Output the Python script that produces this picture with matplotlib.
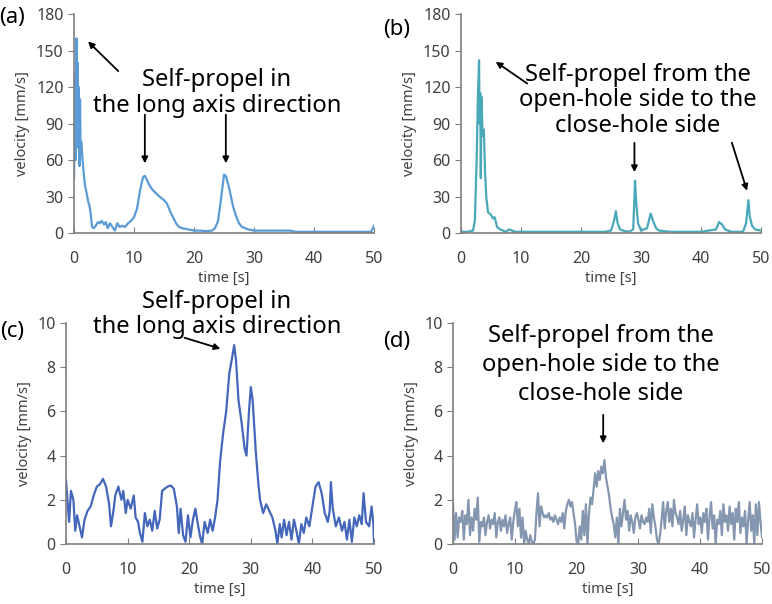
import numpy as np
import matplotlib
matplotlib.use("Agg")
import matplotlib.pyplot as plt

plt.rcParams['font.family'] = ['Noto Sans', 'DejaVu Sans']

# (a) self-propel in the long axis direction, large scale
t_a = [0, 0.1, 0.2, 0.3, 0.4, 0.5, 0.6, 0.7, 0.8, 0.9, 1.0, 1.1, 1.2, 1.4, 1.6, 1.8,
       2.0, 2.2, 2.4, 2.6, 2.8, 3.0, 3.3, 3.6, 4.0, 4.3, 4.6, 5.0, 5.3, 5.6, 6.0, 6.4,
       6.8, 7.2, 7.6, 8.0, 8.5, 9.0, 9.5, 10.0, 10.5, 11.0, 11.5, 11.8, 12.0, 12.5, 13.0,
       14.0, 15.0, 15.5, 16.0, 16.5, 17.0, 17.5, 18.0, 19.0, 20.0, 21.0, 22.0, 23.0, 23.5,
       24.0, 24.5, 25.0, 25.3, 25.8, 26.5, 27.0, 27.5, 28.0, 29.0, 30.0, 32.0, 34.0, 36.0,
       37.0, 38.0, 40.0, 42.0, 44.0, 46.0, 48.0, 49.5, 50.0]
v_a = [45, 100, 130, 60, 160, 90, 140, 70, 120, 55, 110, 65, 75, 62, 50, 40,
       35, 30, 25, 22, 15, 5, 4, 6, 9, 8, 10, 7, 9, 4, 8, 5,
       2, 8, 5, 6, 5, 8, 10, 13, 20, 35, 46, 47, 45, 40, 36,
       31, 27, 24, 18, 13, 8, 5, 4, 3, 2, 2, 1.5, 2, 4,
       10, 28, 48, 47, 38, 22, 14, 8, 5, 3, 2, 2, 2, 2,
       1, 1, 1, 1, 1, 1, 1, 1, 6]

# (b) self-propel from open-hole side to close-hole side, large scale
t_b = [0, 1, 2, 2.3, 2.6, 2.8, 3.0, 3.1, 3.2, 3.3, 3.4, 3.6, 3.8, 4.0, 4.2, 4.5, 5.0,
       5.3, 5.6, 6.0, 6.5, 7.0, 7.5, 8.0, 9.0, 10, 15, 20, 24, 25, 25.5, 25.8, 26.1, 26.5,
       27, 28, 28.7, 29.0, 29.2, 29.5, 30, 31, 31.6, 32, 32.5, 33, 35, 40, 42.5, 43,
       43.5, 44, 45, 47, 47.5, 47.9, 48.1, 48.5, 49, 50]
v_b = [1, 1, 2, 10, 60, 110, 142, 90, 115, 45, 112, 80, 85, 50, 30, 17, 15,
       12, 13, 5, 3, 2, 1, 3, 1, 1, 1, 1, 1, 2, 10, 18, 8, 3,
       2, 1, 3, 43, 25, 8, 2, 4, 16, 10, 4, 2, 1, 1, 3, 9,
       7, 3, 1, 1, 8, 27, 14, 6, 3, 2]

# (c) self-propel in the long axis direction, small scale
t_c = [0, 0.5, 0.8, 1.2, 1.5, 1.8, 2.2, 2.6, 3.0, 3.5, 4.0, 4.5, 5.0, 5.5, 6.0, 6.5,
       7.0, 7.3, 7.7, 8.0, 8.5, 9.0, 9.3, 9.7, 10.0, 10.5, 11.0, 11.3, 11.7, 12.0, 12.4,
       12.8, 13.2, 13.6, 14.0, 14.4, 14.8, 15.2, 15.6, 16.0, 16.5, 17.0, 17.5, 18.0, 18.3,
       18.6, 19.0, 19.4, 19.8, 20.2, 20.6, 21.0, 21.4, 21.8, 22.1, 22.5, 23.0, 23.4, 23.8,
       24.2, 24.6, 25.0, 25.5, 26.0, 26.5, 27.0, 27.3, 27.6, 28.0, 28.5, 29.0, 29.3, 29.7,
       30.0, 30.3, 30.8, 31.2, 31.5, 32.0, 32.5, 33.0, 33.5, 34.0, 34.3, 34.7, 35.0, 35.4,
       35.8, 36.2, 36.6, 37.0, 37.4, 37.8, 38.2, 38.6, 39.0, 39.5, 40.0, 40.5, 41.0, 41.5,
       42.0, 42.5, 42.8, 43.0, 43.3, 43.8, 44.3, 44.8, 45.2, 45.6, 46.0, 46.4, 46.8, 47.2,
       47.6, 48.0, 48.3, 48.7, 49.2, 49.6, 49.9, 50.0]
v_c = [2.9, 1.0, 2.4, 2.0, 0.6, 1.3, 0.8, 0.3, 1.1, 1.5, 1.7, 2.2, 2.6, 2.7, 2.95, 2.6,
       1.8, 0.8, 1.5, 2.2, 2.6, 2.0, 2.4, 1.4, 2.0, 1.6, 2.2, 1.2, 1.0, 0.5, 0.1,
       1.4, 0.8, 1.1, 0.6, 1.5, 0.7, 1.1, 2.4, 2.5, 2.6, 2.65, 2.5, 1.7, 0.5,
       1.6, 0.4, 0.1, 1.3, 0.3, 1.1, 1.6, 0.9, 0.3, 0.0, 1.0, 0.5, 1.1, 0.6,
       1.2, 2.0, 3.7, 5.0, 6.0, 7.7, 8.5, 9.0, 8.3, 6.5, 5.5, 4.3, 4.0, 6.0,
       7.1, 6.5, 4.2, 2.8, 2.0, 1.4, 1.8, 1.5, 1.2, 0.6, 0.0, 0.9, 0.3, 1.1,
       0.4, 1.0, 0.2, 1.1, 0.6, 0.0, 0.9, 0.5, 1.2, 0.8, 1.7, 2.6, 2.8, 2.3,
       1.4, 1.0, 1.5, 2.8, 1.6, 0.8, 1.2, 0.6, 1.0, 0.2, 1.1, 0.1, 1.2, 0.8,
       1.3, 0.9, 2.3, 1.0, 0.8, 1.7, 0.9, 0.0]

# (d) self-propel from open-hole side to close-hole side, small scale (0.25 s steps)
t_d = np.arange(0, 50.01, 0.25)
v_d = [1.8, 0.2, 1.4, 0.3, 1.2, 1.0, 1.5, 0.2, 1.3, 0.9, 2.0, 0.4, 1.2, 0.6, 1.6, 1.1, 2.1, 0.1, 1.0, 0.8,
       1.2, 0.4, 1.0, 1.3, 0.7, 1.1, 0.9, 1.4, 0.3, 1.0, 1.2, 0.6, 1.1, 0.8, 1.3, 0.5, 0.9, 1.2, 0.2, 1.0,
       1.5, 1.9, 0.8, 1.6, 0.3, 1.2, 0.0, 0.6, 0.2, 0.0, 0.4, 0.1, 0.0, 0.2, 1.4, 2.3, 0.8, 1.7, 1.4, 1.2,
       1.3, 1.2, 1.4, 1.1, 1.2, 1.0, 1.3, 1.1, 0.9, 1.2, 1.0, 1.4, 0.7, 1.5, 1.8, 2.0, 1.7, 1.9, 1.4, 0.9,
       0.1, 0.0, 0.8, 0.2, 1.5, 0.4, 1.8, 0.0, 1.4, 2.1, 1.8, 2.5, 3.2, 2.6, 3.3, 2.9, 3.5, 3.2, 3.8, 3.0,
       2.6, 2.2, 1.6, 1.2, 0.9, 0.3, 1.2, 0.0, 1.6, 0.8, 1.4, 2.0, 1.1, 1.5, 0.6, 1.3, 1.0, 0.5, 1.2, 1.4,
       1.1, 0.7, 1.3, 1.0, 0.9, 1.2, 1.0, 1.6, 0.5, 1.8, 1.2, 0.8, 0.2, 0.0, 0.4, 1.1, 1.9, 0.7, 1.5, 1.9,
       1.0, 1.6, 0.8, 2.0, 1.4, 1.2, 0.9, 1.5, 0.6, 1.1, 1.7, 0.4, 1.3, 1.0, 0.8, 1.4, 0.3, 1.1, 1.8, 0.9,
       1.2, 0.5, 1.4, 1.0, 1.6, 0.2, 1.2, 1.9, 0.7, 1.3, 0.0, 1.1, 0.9, 1.5, 0.4, 1.8, 1.0, 1.3, 0.6, 1.7,
       0.9, 1.4, 0.2, 1.6, 1.0, 1.9, 0.5, 1.2, 0.8, 1.5, 0.0, 1.1, 1.9, 0.6, 1.3, 0.0, 1.8, 0.4, 1.9, 1.0, 0.3]

txt_long = "Self-propel in\nthe long axis direction"
txt_hole = "Self-propel from the\nopen-hole side to the\nclose-hole side"

fig = plt.figure(figsize=(7.72, 6.04), dpi=100)

axes_pos = [[0.0959, 0.6142, 0.3886, 0.3626],
            [0.5972, 0.6142, 0.3886, 0.3626],
            [0.0855, 0.0993, 0.3990, 0.3659],
            [0.5868, 0.0993, 0.4003, 0.3659]]
series = [(t_a, v_a, '#5B9BD5', 180, 30),
          (t_b, v_b, '#4AA9B8', 180, 30),
          (t_c, v_c, '#4466BB', 10, 2),
          (t_d, v_d, '#8496B0', 10, 2)]

axs = []
for pos, (t, v, col, ymax, ystep) in zip(axes_pos, series):
    ax = fig.add_axes(pos)
    ax.plot(t, v, color=col, lw=1.6)
    ax.set_xlim(0, 50)
    ax.set_ylim(0, ymax)
    ax.set_xticks(range(0, 51, 10))
    ax.set_yticks(np.arange(0, ymax + 1, ystep))
    for s in ['top', 'right']:
        ax.spines[s].set_visible(False)
    for s in ['left', 'bottom']:
        ax.spines[s].set_color('#7f7f7f')
        ax.spines[s].set_linewidth(1.2)
    ax.tick_params(axis='y', direction='out', length=4, color='#7f7f7f',
                   labelsize=11.5, labelcolor='#404040')
    ax.tick_params(axis='x', direction='in', length=4, color='#7f7f7f',
                   labelsize=11.5, labelcolor='#404040', pad=13)
    ax.set_xlabel("time [s]", fontsize=10.5, color='#404040', labelpad=3)
    ax.set_ylabel("velocity [mm/s]", fontsize=10.5, color='#404040', labelpad=4)
    axs.append(ax)

ap = dict(arrowstyle='-|>', color='black', lw=1.3, mutation_scale=9)
fs = 17.2

ax = axs[0]
ax.text(23.8, 115, txt_long, ha='center', va='center', fontsize=fs, linespacing=1.1)
ax.annotate("", xy=(2.0, 159), xytext=(7.7, 131.5), arrowprops=ap)
ax.annotate("", xy=(11.8, 55), xytext=(11.8, 99.5), arrowprops=ap)
ax.annotate("", xy=(25.3, 55), xytext=(25.3, 99.5), arrowprops=ap)

ax = axs[1]
ax.text(29.4, 109, txt_hole, ha='center', va='center', fontsize=fs, linespacing=1.1)
ax.annotate("", xy=(5.4, 142), xytext=(11.4, 121.6), arrowprops=ap)
ax.annotate("", xy=(28.9, 47.7), xytext=(28.9, 76.4), arrowprops=ap)
ax.annotate("", xy=(47.8, 32.6), xytext=(45.0, 76.4), arrowprops=ap)

ax = axs[2]
ax.text(24.5, 10.4, txt_long, ha='center', va='center', fontsize=fs, linespacing=1.05,
        clip_on=False)
ax.annotate("", xy=(25.5, 8.8), xytext=(18.8, 9.37), arrowprops=ap)

ax = axs[3]
ax.text(23.9, 8.1, txt_hole, ha='center', va='center', fontsize=fs, linespacing=1.3)
ax.annotate("", xy=(24.3, 4.43), xytext=(24.3, 5.97), arrowprops=ap)

for lab, x, y in [("(a)", 12, 17), ("(b)", 397, 30), ("(c)", 12, 332), ("(d)", 397, 342)]:
    fig.text(x / 772, 1 - y / 604, lab, ha='center', va='center', fontsize=16)

fig.savefig("out.png", dpi=100)
